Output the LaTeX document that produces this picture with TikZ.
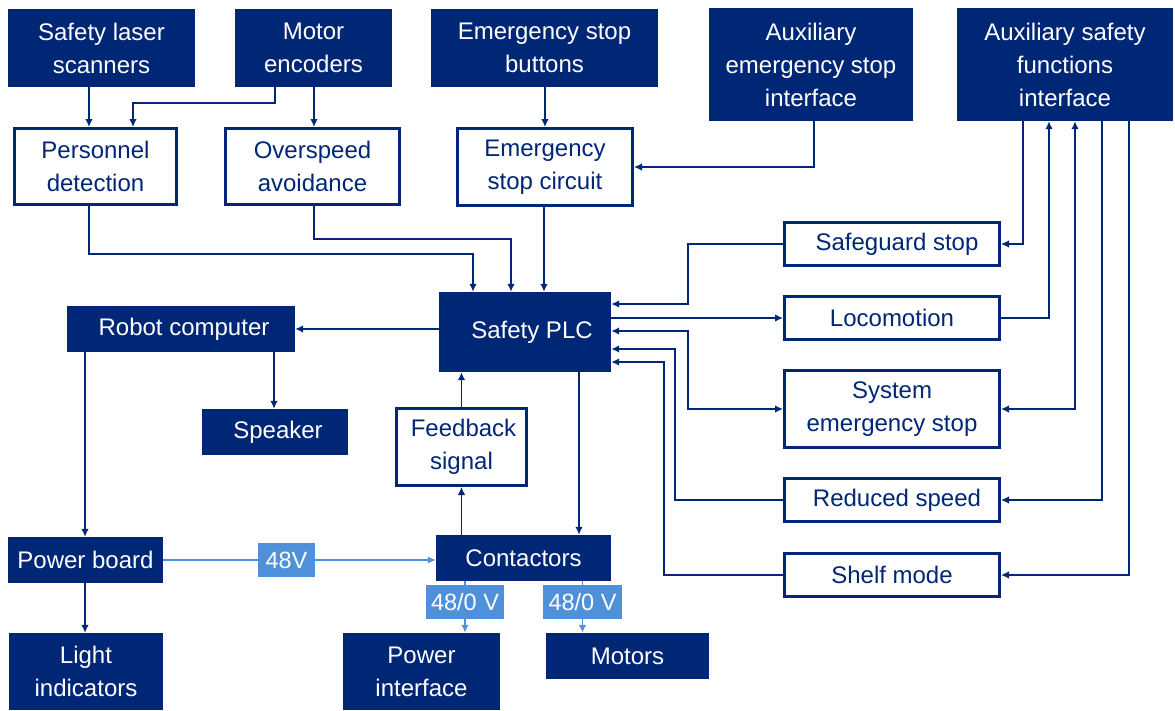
\documentclass[tikz,border=0pt]{standalone}
\usepackage{fontspec}
\setmainfont{Liberation Sans}
\usetikzlibrary{arrows.meta}
\definecolor{navy}{RGB}{0,38,118}
\definecolor{lblue}{RGB}{79,145,217}
\tikzset{
  base/.style={rectangle, inner sep=0pt, align=center, font=\fontsize{24}{33}\selectfont},
  filled/.style={base, fill=navy, text=white},
  outl/.style={base, draw=navy, line width=3pt, fill=white, text=navy},
  volt/.style={base, fill=lblue, text=white, minimum height=34, font=\fontsize{23.5}{28}\selectfont},
  conn/.style={draw=navy, line width=1.4pt},
  arr/.style={conn, -{Latex[length=8pt,width=7.5pt]}},
  darr/.style={conn, {Latex[length=8pt,width=7.5pt]}-{Latex[length=8pt,width=7.5pt]}},
  barr/.style={draw=lblue, line width=1.6pt, -{Latex[length=8pt,width=7.5pt]}},
  bline/.style={draw=lblue, line width=1.6pt},
}
\begin{document}
\begin{tikzpicture}[x=1pt,y=-1pt]
\useasboundingbox (0,0) rectangle (1175,710);
% top row
\node[filled, minimum width=187, minimum height=78] (sls) at (101.5,48) {Safety laser\\scanners};
\node[filled, minimum width=157, minimum height=78] (menc) at (313.5,48) {Motor\\encoders};
\node[filled, minimum width=227, minimum height=78] (esb) at (544.5,48) {Emergency stop\\buttons};
\node[filled, minimum width=204, minimum height=113] (aesi) at (811,64.5) {Auxiliary\\emergency stop\\interface};
\node[filled, minimum width=216, minimum height=113] (asfi) at (1065,64.5) {Auxiliary safety\\functions\\interface};
% second row
\node[outl, minimum width=162, minimum height=76] (pd) at (95.5,166.5) {Personnel\\detection};
\node[outl, minimum width=174, minimum height=76] (oa) at (312.5,166.5) {Overspeed\\avoidance};
\node[outl, minimum width=175, minimum height=77] (esc) at (545,167) {Emergency\\stop circuit};
% PLC
\node[filled, minimum width=172, minimum height=80] (plc) at (525,332) {\hspace*{14pt}Safety PLC};
% right column
\node[outl, minimum width=215, minimum height=43] (sgs) at (892,244) {\hspace*{10pt}Safeguard stop};
\node[outl, minimum width=215, minimum height=43] (loco) at (892,318) {Locomotion};
\node[outl, minimum width=215, minimum height=77] (ses) at (892,409) {System\\emergency stop};
\node[outl, minimum width=215, minimum height=43] (rs) at (892,500) {\hspace*{10pt}Reduced speed};
\node[outl, minimum width=215, minimum height=43] (sm) at (892,575) {Shelf mode};
% left middle
\node[filled, minimum width=228, minimum height=46] (rc) at (181,329) {\hspace*{6pt}Robot computer};
\node[filled, minimum width=146, minimum height=46] (spk) at (275,432) {\hspace*{6pt}Speaker};
\node[outl, minimum width=130, minimum height=77] (fb) at (461.5,447) {\hspace*{4pt}Feedback\\signal};
% bottom
\node[filled, minimum width=155, minimum height=46] (pb) at (85.5,560) {Power board};
\node[filled, minimum width=154, minimum height=77] (li) at (86,671.5) {Light\\indicators};
\node[filled, minimum width=175, minimum height=46] (con) at (523.5,558) {Contactors};
\node[filled, minimum width=157, minimum height=77] (pi) at (421.5,671.5) {Power\\interface};
\node[filled, minimum width=163, minimum height=46] (mot) at (627.5,656) {Motors};
\node[volt, minimum width=57] (v48) at (286.5,560) {48V};
\node[volt, minimum width=78] (v1) at (465,602) {48/0 V};
\node[volt, minimum width=79] (v2) at (582.5,602) {48/0 V};
% connectors: top
\draw[arr] (sls.south -| 89,0) -- (pd.north -| 89,0);
\draw[arr] (menc.south -| 275,0) -- (275,103) -| (pd.north -| 133,0);
\draw[arr] (menc.south -| 314,0) -- (oa.north -| 314,0);
\draw[arr] (esb.south -| 545,0) -- (esc.north -| 545,0);
\draw[arr] (aesi.south -| 814,0) |- (esc.east);
% into PLC
\draw[arr] (pd.south -| 89,0) |- (473,254) -- (plc.north -| 473,0);
\draw[arr] (oa.south -| 314,0) |- (511,239) -- (plc.north -| 511,0);
\draw[arr] (esc.south -| 544,0) -- (plc.north -| 544,0);
% PLC left / down
\draw[arr] (plc.west |- 0,329) -- (rc.east |- 0,329);
\draw[arr] (rc.south -| 274,0) -- (spk.north -| 274,0);
\draw[arr] (rc.south -| 85,0) -- (pb.north -| 85,0);
\draw[arr] (pb.south -| 85,0) -- (li.north -| 85,0);
\draw[arr] (con.north -| fb.south) -- (fb.south);
\draw[arr] (fb.north) -- (plc.south -| fb.north);
\draw[arr] (plc.south -| 579,0) -- (con.north -| 579,0);
% power lines
\draw[bline] (pb.east |- v48.west) -- (v48.west);
\draw[barr] (v48.east) -- (con.west |- v48.east);
\draw[bline] (con.south -| v1.north) -- (v1.north);
\draw[barr] (v1.south) -- (pi.north -| v1.south);
\draw[bline] (con.south -| v2.north) -- (v2.north);
\draw[barr] (v2.south) -- (mot.north -| v2.south);
% PLC right side
\draw[arr] (sgs.west) -| (688,304) -- (plc.east |- 0,304);
\draw[arr] (plc.east |- 0,318) -- (loco.west);
\draw[darr] (plc.east |- 0,331) -| (688,409) -- (ses.west);
\draw[arr] (rs.west) -| (675,349) -- (plc.east |- 0,349);
\draw[arr] (sm.west) -| (664,362) -- (plc.east |- 0,362);
% auxiliary safety functions interface
\draw[arr] (asfi.south -| 1023,0) |- (sgs.east);
\draw[arr] (loco.east) -| (asfi.south -| 1049,0);
\draw[darr] (asfi.south -| 1075,0) |- (ses.east);
\draw[arr] (asfi.south -| 1102,0) |- (rs.east);
\draw[arr] (asfi.south -| 1129,0) |- (sm.east);
\end{tikzpicture}
\end{document}
